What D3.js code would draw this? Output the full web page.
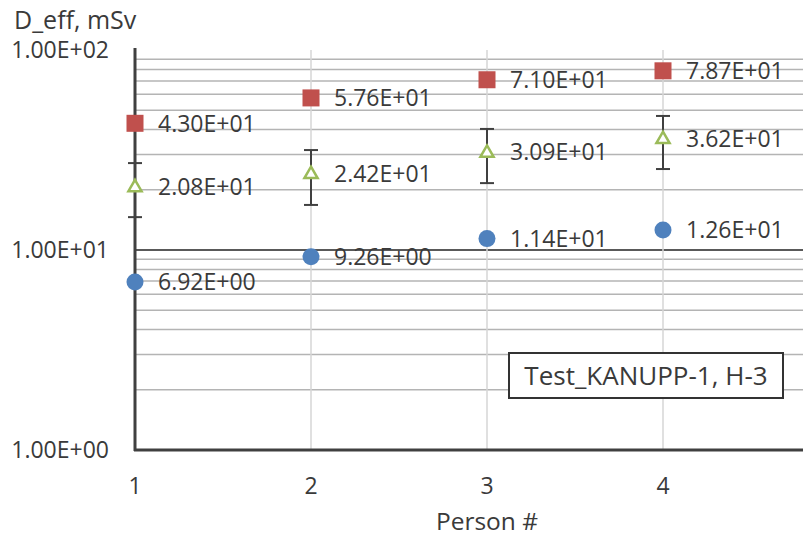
<!DOCTYPE html>
<html>
<head>
<meta charset="utf-8">
<script src="https://cdn.jsdelivr.net/npm/d3@7"></script>
<style>
  body { margin: 0; background: #fff; }
  text { font-family: "Open Sans", sans-serif; fill: #3a3a3a; }
</style>
</head>
<body>
<div id="chart"></div>
<script>
// values
var persons = [1, 2, 3, 4];
var upperVals = [43.0, 57.6, 71.0, 78.7];      // red squares
var midVals = [20.8, 24.2, 30.9, 36.2];        // green triangles
var lowerVals = [6.92, 9.26, 11.4, 12.6];      // blue circles
var errLow = [14.6, 16.8, 21.6, 25.4];
var errHigh = [27.2, 31.6, 40.3, 46.8];
var yTicks = [1, 10, 100];
var xTicks = [1, 2, 3, 4];

var W = 803, H = 543;

var svg = d3.select("#chart")
    .append("svg")
    .attr("width", W)
    .attr("height", H);

var x = d3.scaleLinear().domain([1, 5]).range([135, 839]);
var y = d3.scaleLog().domain([1, 100]).range([450, 50]);

function sci(v) {
    var s = v.toExponential(2).toUpperCase();
    var parts = s.split("E");
    var sign = parts[1][0];
    var e = parts[1].slice(1);
    if (e.length < 2) e = "0" + e;
    return parts[0] + "E" + sign + e;
}

// horizontal grid: minor lines and the 10 line
var minor = [];
[1, 10].forEach(function (d) {
    for (var k = 2; k <= 9; k++) minor.push(d * k);
});

svg.append("g").selectAll("line")
    .data(minor)
    .join("line")
    .attr("x1", x(1)).attr("x2", W)
    .attr("y1", function (d) { return y(d); })
    .attr("y2", function (d) { return y(d); })
    .attr("stroke", "#b4b4b4")
    .attr("stroke-width", 1.5);

svg.append("line")
    .attr("x1", x(1)).attr("x2", W)
    .attr("y1", y(10)).attr("y2", y(10))
    .attr("stroke", "#595959")
    .attr("stroke-width", 2);

// vertical grid
svg.append("g").selectAll("line")
    .data(xTicks.slice(1))
    .join("line")
    .attr("x1", function (d) { return x(d); })
    .attr("x2", function (d) { return x(d); })
    .attr("y1", y(100)).attr("y2", y(1))
    .attr("stroke", "#d6d6d6")
    .attr("stroke-width", 1.5);

// error bars
var eb = svg.append("g")
    .attr("stroke", "#404040")
    .attr("stroke-width", 2);

persons.forEach(function (p, i) {
    eb.append("line")
        .attr("x1", x(p)).attr("x2", x(p))
        .attr("y1", y(errLow[i])).attr("y2", y(errHigh[i]));
    [errLow[i], errHigh[i]].forEach(function (v) {
        eb.append("line")
            .attr("x1", x(p) - 7).attr("x2", x(p) + 7)
            .attr("y1", y(v)).attr("y2", y(v));
    });
});

// axes
svg.append("line")
    .attr("x1", x(1)).attr("x2", x(1))
    .attr("y1", y(100) - 2).attr("y2", y(1) + 1)
    .attr("stroke", "#404040")
    .attr("stroke-width", 3);

svg.append("line")
    .attr("x1", x(1) - 1).attr("x2", W)
    .attr("y1", y(1)).attr("y2", y(1))
    .attr("stroke", "#404040")
    .attr("stroke-width", 3);

// markers
svg.append("g").selectAll("rect")
    .data(persons)
    .join("rect")
    .attr("x", function (d) { return x(d) - 8.5; })
    .attr("y", function (d, i) { return y(upperVals[i]) - 8.5; })
    .attr("width", 17)
    .attr("height", 17)
    .attr("fill", "#c0504d");

svg.append("g").selectAll("path")
    .data(persons)
    .join("path")
    .attr("d", d3.symbol().type(d3.symbolTriangle).size(75))
    .attr("transform", function (d, i) {
        return "translate(" + x(d) + "," + (y(midVals[i]) + 1) + ")";
    })
    .attr("fill", "#fff")
    .attr("stroke", "#9bbb59")
    .attr("stroke-width", 2.5);

svg.append("g").selectAll("circle")
    .data(persons)
    .join("circle")
    .attr("cx", function (d) { return x(d); })
    .attr("cy", function (d, i) { return y(lowerVals[i]); })
    .attr("r", 8.5)
    .attr("fill", "#4f81bd");

// data labels
[upperVals, midVals, lowerVals].forEach(function (vals) {
    svg.append("g").selectAll("text")
        .data(persons)
        .join("text")
        .attr("x", function (d) { return x(d) + 23; })
        .attr("y", function (d, i) { return y(vals[i]); })
        .attr("dy", "0.36em")
        .attr("font-size", 23)
        .text(function (d, i) { return sci(vals[i]); });
});

// tick labels
svg.append("g").selectAll("text")
    .data(yTicks)
    .join("text")
    .attr("x", 109)
    .attr("y", function (d) { return y(d); })
    .attr("dy", "0.36em")
    .attr("text-anchor", "end")
    .attr("font-size", 23)
    .text(function (d) { return sci(d); });

svg.append("g").selectAll("text")
    .data(xTicks)
    .join("text")
    .attr("x", function (d) { return x(d); })
    .attr("y", 486)
    .attr("dy", "0.36em")
    .attr("text-anchor", "middle")
    .attr("font-size", 23)
    .text(function (d) { return d; });

svg.append("text")
    .attr("x", 487)
    .attr("y", 521)
    .attr("dy", "0.36em")
    .attr("text-anchor", "middle")
    .attr("font-size", 24.5)
    .text("Person #");

svg.append("text")
    .attr("x", 14)
    .attr("y", 20)
    .attr("dy", "0.36em")
    .attr("font-size", 25)
    .text("D_eff, mSv");

// label box
svg.append("rect")
    .attr("x", 509).attr("y", 353)
    .attr("width", 274).attr("height", 45)
    .attr("fill", "#fff")
    .attr("stroke", "#333")
    .attr("stroke-width", 2);

svg.append("text")
    .attr("x", 646)
    .attr("y", 376)
    .attr("dy", "0.36em")
    .attr("text-anchor", "middle")
    .attr("font-size", 26)
    .text("Test_KANUPP-1, H-3");
</script>
</body>
</html>
